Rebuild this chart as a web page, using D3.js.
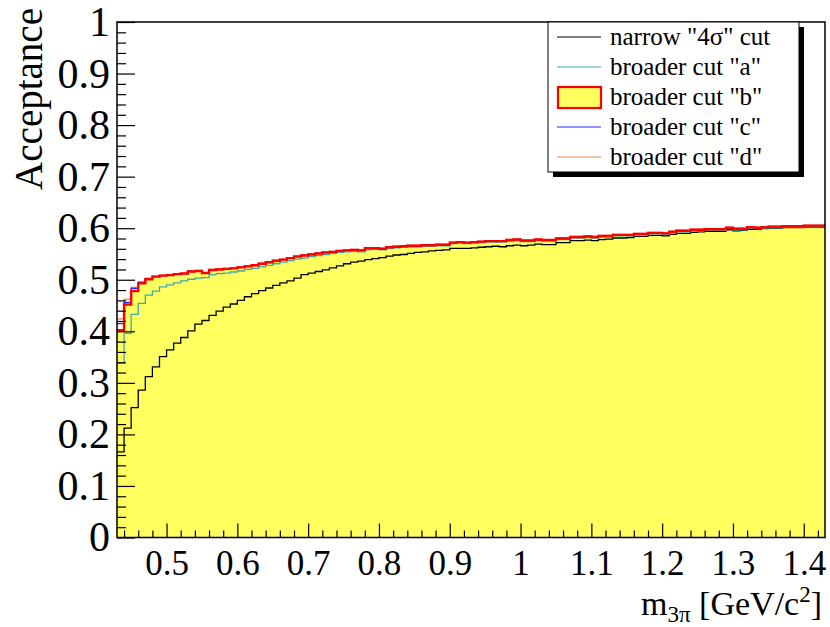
<!DOCTYPE html>
<html><head><meta charset="utf-8">
<script src="https://cdn.jsdelivr.net/npm/d3@7/dist/d3.min.js"></script>
<style>body{margin:0;background:#fff}svg{display:block}text{font-family:"Liberation Serif","Times New Roman",serif;fill:#000}</style>
</head><body><svg id="c" width="830" height="627"></svg>
<script>
const xMin = 0.43, xMax = 1.43, binWidth = 0.01;
const narrow = [0.166,0.212,0.252,0.286,0.312,0.331,0.351,0.364,0.377,0.388,0.401,0.414,0.421,0.431,0.439,0.447,0.453,0.460,0.467,0.473,0.479,0.484,0.489,0.494,0.498,0.503,0.510,0.513,0.516,0.519,0.523,0.527,0.531,0.534,0.536,0.539,0.541,0.543,0.546,0.548,0.549,0.551,0.553,0.554,0.556,0.557,0.558,0.561,0.561,0.561,0.562,0.563,0.564,0.565,0.564,0.566,0.567,0.566,0.567,0.569,0.568,0.568,0.572,0.572,0.576,0.576,0.577,0.576,0.578,0.579,0.581,0.581,0.582,0.584,0.584,0.586,0.586,0.585,0.588,0.590,0.590,0.592,0.593,0.594,0.594,0.594,0.597,0.595,0.596,0.598,0.598,0.599,0.600,0.600,0.601,0.601,0.601,0.602,0.602,0.602];
const cutA = [0.338,0.396,0.433,0.454,0.470,0.478,0.486,0.490,0.494,0.498,0.501,0.503,0.504,0.510,0.512,0.513,0.515,0.517,0.520,0.522,0.525,0.528,0.531,0.534,0.537,0.540,0.542,0.545,0.547,0.549,0.551,0.553,0.554,0.555,0.554,0.558,0.559,0.558,0.561,0.562,0.563,0.564,0.564,0.565,0.565,0.566,0.566,0.570,0.571,0.570,0.571,0.572,0.573,0.573,0.573,0.575,0.576,0.574,0.574,0.576,0.575,0.575,0.578,0.578,0.581,0.581,0.582,0.581,0.583,0.583,0.585,0.585,0.585,0.587,0.587,0.589,0.589,0.588,0.591,0.593,0.593,0.595,0.595,0.596,0.596,0.596,0.599,0.597,0.597,0.600,0.599,0.600,0.601,0.601,0.602,0.602,0.602,0.603,0.603,0.603];
const cutB = [0.402,0.452,0.478,0.493,0.501,0.506,0.508,0.509,0.511,0.512,0.516,0.517,0.513,0.519,0.520,0.521,0.522,0.524,0.526,0.528,0.531,0.534,0.537,0.539,0.542,0.545,0.547,0.549,0.551,0.553,0.554,0.556,0.557,0.558,0.557,0.561,0.561,0.560,0.563,0.564,0.565,0.566,0.566,0.567,0.567,0.568,0.568,0.572,0.573,0.572,0.573,0.574,0.575,0.575,0.575,0.577,0.578,0.576,0.576,0.578,0.577,0.577,0.580,0.580,0.583,0.583,0.584,0.583,0.585,0.585,0.587,0.587,0.587,0.589,0.589,0.591,0.591,0.590,0.593,0.595,0.595,0.597,0.597,0.598,0.598,0.598,0.601,0.599,0.599,0.602,0.601,0.602,0.603,0.603,0.604,0.604,0.604,0.605,0.605,0.605];
const cutC = [0.415,0.456,0.483,0.495,0.502,0.506,0.508,0.509,0.511,0.512,0.516,0.517,0.513,0.519,0.520,0.521,0.522,0.524,0.526,0.528,0.531,0.534,0.537,0.539,0.542,0.545,0.547,0.549,0.551,0.553,0.554,0.556,0.557,0.558,0.557,0.561,0.561,0.560,0.563,0.564,0.565,0.566,0.566,0.567,0.567,0.568,0.568,0.572,0.573,0.572,0.573,0.574,0.575,0.575,0.575,0.577,0.578,0.576,0.576,0.578,0.577,0.577,0.580,0.580,0.583,0.583,0.584,0.583,0.585,0.585,0.587,0.587,0.587,0.589,0.589,0.591,0.591,0.590,0.593,0.595,0.595,0.597,0.597,0.598,0.598,0.598,0.601,0.599,0.599,0.602,0.601,0.602,0.603,0.603,0.604,0.604,0.604,0.605,0.605,0.605];
const cutD = [0.424,0.462,0.485,0.496,0.503,0.507,0.509,0.510,0.512,0.513,0.517,0.518,0.514,0.520,0.521,0.522,0.523,0.525,0.527,0.529,0.532,0.535,0.538,0.540,0.543,0.546,0.548,0.550,0.552,0.554,0.555,0.557,0.558,0.559,0.558,0.562,0.562,0.561,0.564,0.565,0.566,0.567,0.567,0.568,0.568,0.569,0.569,0.573,0.574,0.573,0.574,0.575,0.576,0.576,0.576,0.578,0.579,0.577,0.577,0.579,0.578,0.578,0.581,0.581,0.584,0.584,0.585,0.584,0.586,0.586,0.588,0.588,0.588,0.590,0.590,0.592,0.592,0.591,0.594,0.596,0.596,0.598,0.598,0.599,0.599,0.599,0.602,0.600,0.600,0.603,0.602,0.603,0.604,0.604,0.605,0.605,0.605,0.606,0.606,0.606];
const xMajorTicks = [0.5,0.6,0.7,0.8,0.9,1.0,1.1,1.2,1.3,1.4];
const xMajorLabels = ["0.5","0.6","0.7","0.8","0.9","1","1.1","1.2","1.3","1.4"];
const xMinorTicks = [0.44,0.46,0.48,0.52,0.54,0.56,0.58,0.62,0.64,0.66,0.68,0.72,0.74,0.76,0.78,0.82,0.84,0.86,0.88,0.92,0.94,0.96,0.98,1.02,1.04,1.06,1.08,1.12,1.14,1.16,1.18,1.22,1.24,1.26,1.28,1.32,1.34,1.36,1.38,1.42];
const yMajorTicks = [0,0.1,0.2,0.3,0.4,0.5,0.6,0.7,0.8,0.9,1.0];
const yMajorLabels = ["0","0.1","0.2","0.3","0.4","0.5","0.6","0.7","0.8","0.9","1"];
const yMinorTicks = [0.02,0.04,0.06,0.08,0.12,0.14,0.16,0.18,0.22,0.24,0.26,0.28,0.32,0.34,0.36,0.38,0.42,0.44,0.46,0.48,0.52,0.54,0.56,0.58,0.62,0.64,0.66,0.68,0.72,0.74,0.76,0.78,0.82,0.84,0.86,0.88,0.92,0.94,0.96,0.98];
const legendLabels = ['narrow "4σ" cut','broader cut "a"','broader cut "b"','broader cut "c"','broader cut "d"'];
const colors = {narrow:"#000000", a:"#3fa9a9", b:"#ff0000", c:"#2828ff", d:"#e0825a", fill:"#ffff60"};

const svg = d3.select("#c");
const L=117, R=825, T=22, B=537.5;
const x = d3.scaleLinear().domain([xMin,xMax]).range([L,R]);
const y = d3.scaleLinear().domain([0,1]).range([B,T]);

svg.append("defs").append("clipPath").attr("id","clip").append("rect").attr("x",L).attr("y",T).attr("width",R-L).attr("height",B-T);
const g = svg.append("g").attr("clip-path","url(#clip)");

function stepPts(vals){
  const pts=[];
  vals.forEach((v,i)=>{const a=xMin+i*binWidth; pts.push([x(a),y(v)],[x(a+binWidth),y(v)]);});
  return pts;
}
const line = d3.line();
const fp = stepPts(cutB);
g.append("path").attr("d", line([[x(xMin),y(0)],...fp,[x(xMax),y(0)]])+"Z").attr("fill",colors.fill).attr("stroke","none");
g.append("path").attr("d",line(stepPts(narrow))).attr("fill","none").attr("stroke",colors.narrow).attr("stroke-width",1.3);
g.append("path").attr("d",line(stepPts(cutA))).attr("fill","none").attr("stroke",colors.a).attr("stroke-width",1.3);
g.append("path").attr("d",line(stepPts(cutD))).attr("fill","none").attr("stroke",colors.d).attr("stroke-width",1.3);
g.append("path").attr("d",line(stepPts(cutC))).attr("fill","none").attr("stroke",colors.c).attr("stroke-width",1.3);
g.append("path").attr("d",line(stepPts(cutB))).attr("fill","none").attr("stroke",colors.b).attr("stroke-width",2.4);

const xMajor = svg.append("g").attr("transform",`translate(0,${B})`).call(d3.axisBottom(x).tickValues(xMajorTicks).tickSize(-14).tickPadding(13).tickFormat((d,i)=>xMajorLabels[i]));
svg.append("g").attr("transform",`translate(0,${B})`).call(d3.axisBottom(x).tickValues(xMinorTicks).tickSize(-7).tickFormat(""));
const yMajor = svg.append("g").attr("transform",`translate(${L},0)`).call(d3.axisLeft(y).tickValues(yMajorTicks).tickSize(-18).tickPadding(7).tickFormat((d,i)=>yMajorLabels[i]));
svg.append("g").attr("transform",`translate(${L},0)`).call(d3.axisLeft(y).tickValues(yMinorTicks).tickSize(-9).tickFormat(""));
svg.selectAll(".domain").remove();
svg.selectAll(".tick line").attr("stroke","#000").attr("stroke-width",1.2);
xMajor.selectAll("text").style("font-family",'"Liberation Serif",serif').style("font-size","35px");
yMajor.selectAll("text").style("font-family",'"Liberation Serif",serif').style("font-size","42px");

svg.append("rect").attr("x",L).attr("y",T).attr("width",R-L).attr("height",B-T).attr("fill","none").attr("stroke","#000").attr("stroke-width",1.5);

svg.append("text").attr("transform","translate(42,8) rotate(-90)").attr("text-anchor","end").style("font-size","39px").text("Acceptance");
const xt = svg.append("text").attr("x",R-3).attr("y",615).attr("text-anchor","end").style("font-size","34px");
xt.append("tspan").text("m");
xt.append("tspan").attr("dy",7).style("font-size","23px").text("3π");
xt.append("tspan").attr("dy",-7).text(" [GeV/c");
xt.append("tspan").attr("dy",-13).style("font-size","23px").text("2");
xt.append("tspan").attr("dy",13).text("]");

const lx=548, ly=22, lw=251, lh=150;
svg.append("rect").attr("x",lx+5).attr("y",ly+5).attr("width",lw).attr("height",lh).attr("fill","#000");
svg.append("rect").attr("x",lx).attr("y",ly).attr("width",lw).attr("height",lh).attr("fill","#fff").attr("stroke","#000").attr("stroke-width",1);
const legColors=[colors.narrow,colors.a,null,colors.c,colors.d];
legendLabels.forEach((t,i)=>{
  const cy = ly + lh*(i+0.5)/5;
  if(i===2){
    svg.append("rect").attr("x",558).attr("y",cy-10).attr("width",43).attr("height",21).attr("fill",colors.fill).attr("stroke",colors.b).attr("stroke-width",2.2);
  } else {
    svg.append("line").attr("x1",557).attr("x2",601).attr("y1",cy).attr("y2",cy).attr("stroke",legColors[i]).attr("stroke-width",1.2);
  }
  svg.append("text").attr("x",610).attr("y",cy+8).style("font-size","25px").text(t);
});
</script></body></html>
